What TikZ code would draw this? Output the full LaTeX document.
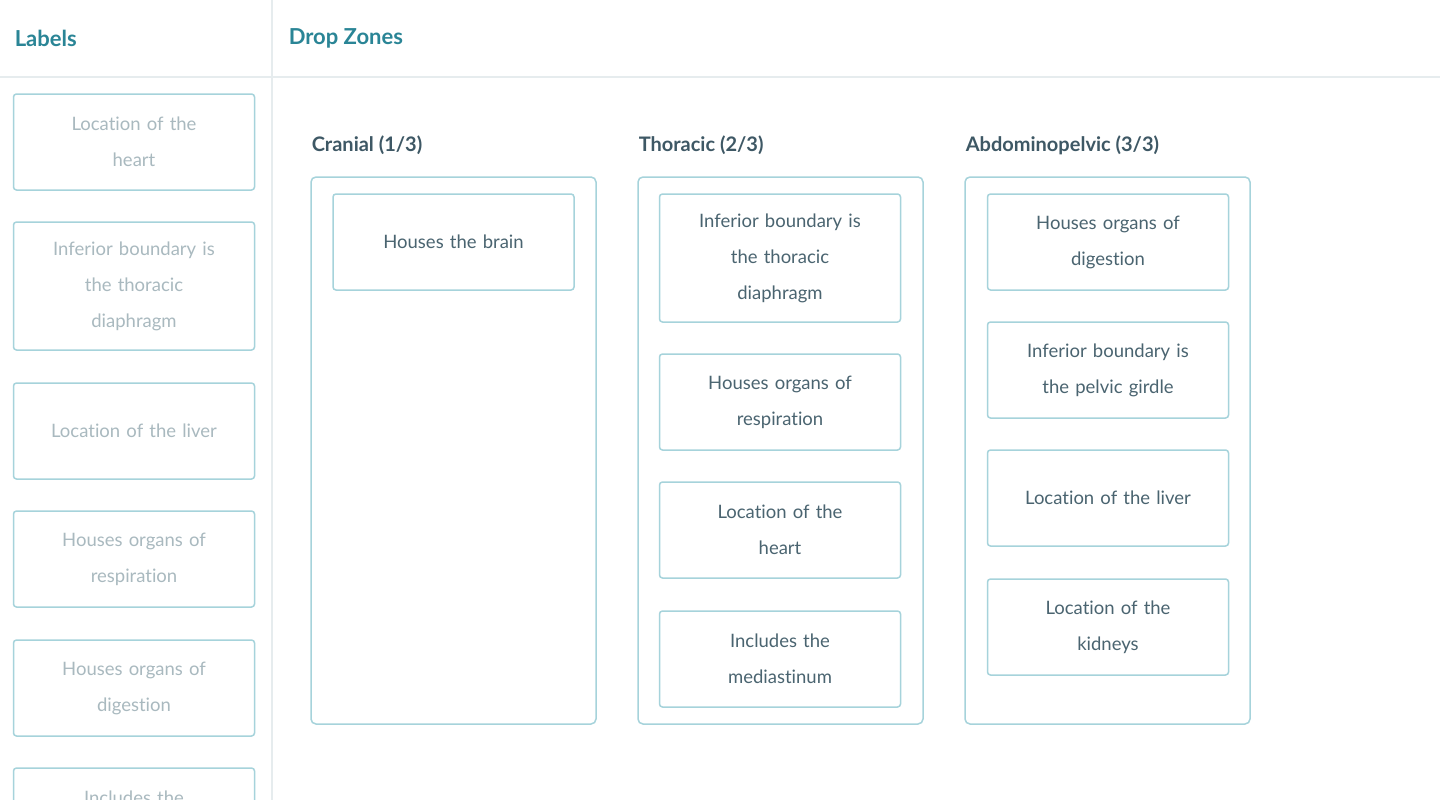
\documentclass[tikz,border=0pt]{standalone}
\usepackage{fontspec}
\setmainfont[Ligatures=NoCommon]{Lato}
\usetikzlibrary{positioning}
\definecolor{teal}{HTML}{2A8596}
\definecolor{head}{HTML}{3E5865}
\definecolor{cardtxt}{HTML}{4A6470}
\definecolor{faint}{HTML}{A9B9BF}
\definecolor{edge}{HTML}{A6D3DB}
\definecolor{rule}{HTML}{E6ECEE}
\tikzset{
    every picture/.style={line width=1.5pt},
    title/.style={anchor=west,inner sep=0pt,text=teal,font=\fontsize{22}{24}\selectfont\bfseries},
    zonehead/.style={anchor=west,inner sep=0pt,text=head,font=\fontsize{20}{22}\selectfont\bfseries},
    card/.style={draw=edge,rounded corners=3pt,minimum width=241pt,text width=236pt,align=center,
        inner sep=0pt,text=cardtxt,font=\fontsize{18.5}{36}\selectfont},
    spare/.style={card,text=faint},
    zone/.style={draw=edge,rounded corners=5pt}
}
\begin{document}
\begin{tikzpicture}[x=1pt,y=-1pt]
    \useasboundingbox[clip] (0,0) rectangle (1440,800);
    \fill[white] (0,0) rectangle (1440,800);
    % frame of the page
    \draw[rule] (272,0) -- (272,800);
    \draw[rule] (0,77) -- (1440,77);
    \node[title] (labels) at (14,38) {Labels};
    \node[title] (drop) at (288,38) {Drop Zones};
    % label pool
    \node[spare,minimum height=96pt] (l1) at (134,142) {Location of the\\heart};
    \node[spare,minimum height=128pt] (l2) at (134,286) {Inferior boundary is\\the thoracic\\diaphragm};
    \node[spare,minimum height=96pt] (l3) at (134,431) {Location of the liver};
    \node[spare,minimum height=96pt] (l4) at (134,559) {Houses organs of\\respiration};
    \node[spare,minimum height=96pt] (l5) at (134,688) {Houses organs of\\digestion};
    \node[spare,minimum height=96pt] (l6) at (134,816) {Includes the\\mediastinum};
    % drop zones
    \foreach \x/\name/\txt in {311/cran/{Cranial (1/3)},638/thor/{Thoracic (2/3)},965/abdo/{Abdominopelvic (3/3)}}{
        \node[zonehead] (\name) at (\x,145) {\txt};
        \draw[zone] (\x,177) rectangle (\x+285,724);
    }
    \node[card,minimum height=96pt] (c1) at (453.5,242) {Houses the brain};
    \node[card,minimum height=128pt] (t1) at (780,258) {Inferior boundary is\\the thoracic\\diaphragm};
    \node[card,minimum height=96pt] (t2) at (780,402) {Houses organs of\\respiration};
    \node[card,minimum height=96pt] (t3) at (780,530) {Location of the\\heart};
    \node[card,minimum height=96pt] (t4) at (780,659) {Includes the\\mediastinum};
    \node[card,minimum height=96pt] (a1) at (1108,242) {Houses organs of\\digestion};
    \node[card,minimum height=96pt] (a2) at (1108,370) {Inferior boundary is\\the pelvic girdle};
    \node[card,minimum height=96pt] (a3) at (1108,498) {Location of the liver};
    \node[card,minimum height=96pt] (a4) at (1108,627) {Location of the\\kidneys};
\end{tikzpicture}
\end{document}
